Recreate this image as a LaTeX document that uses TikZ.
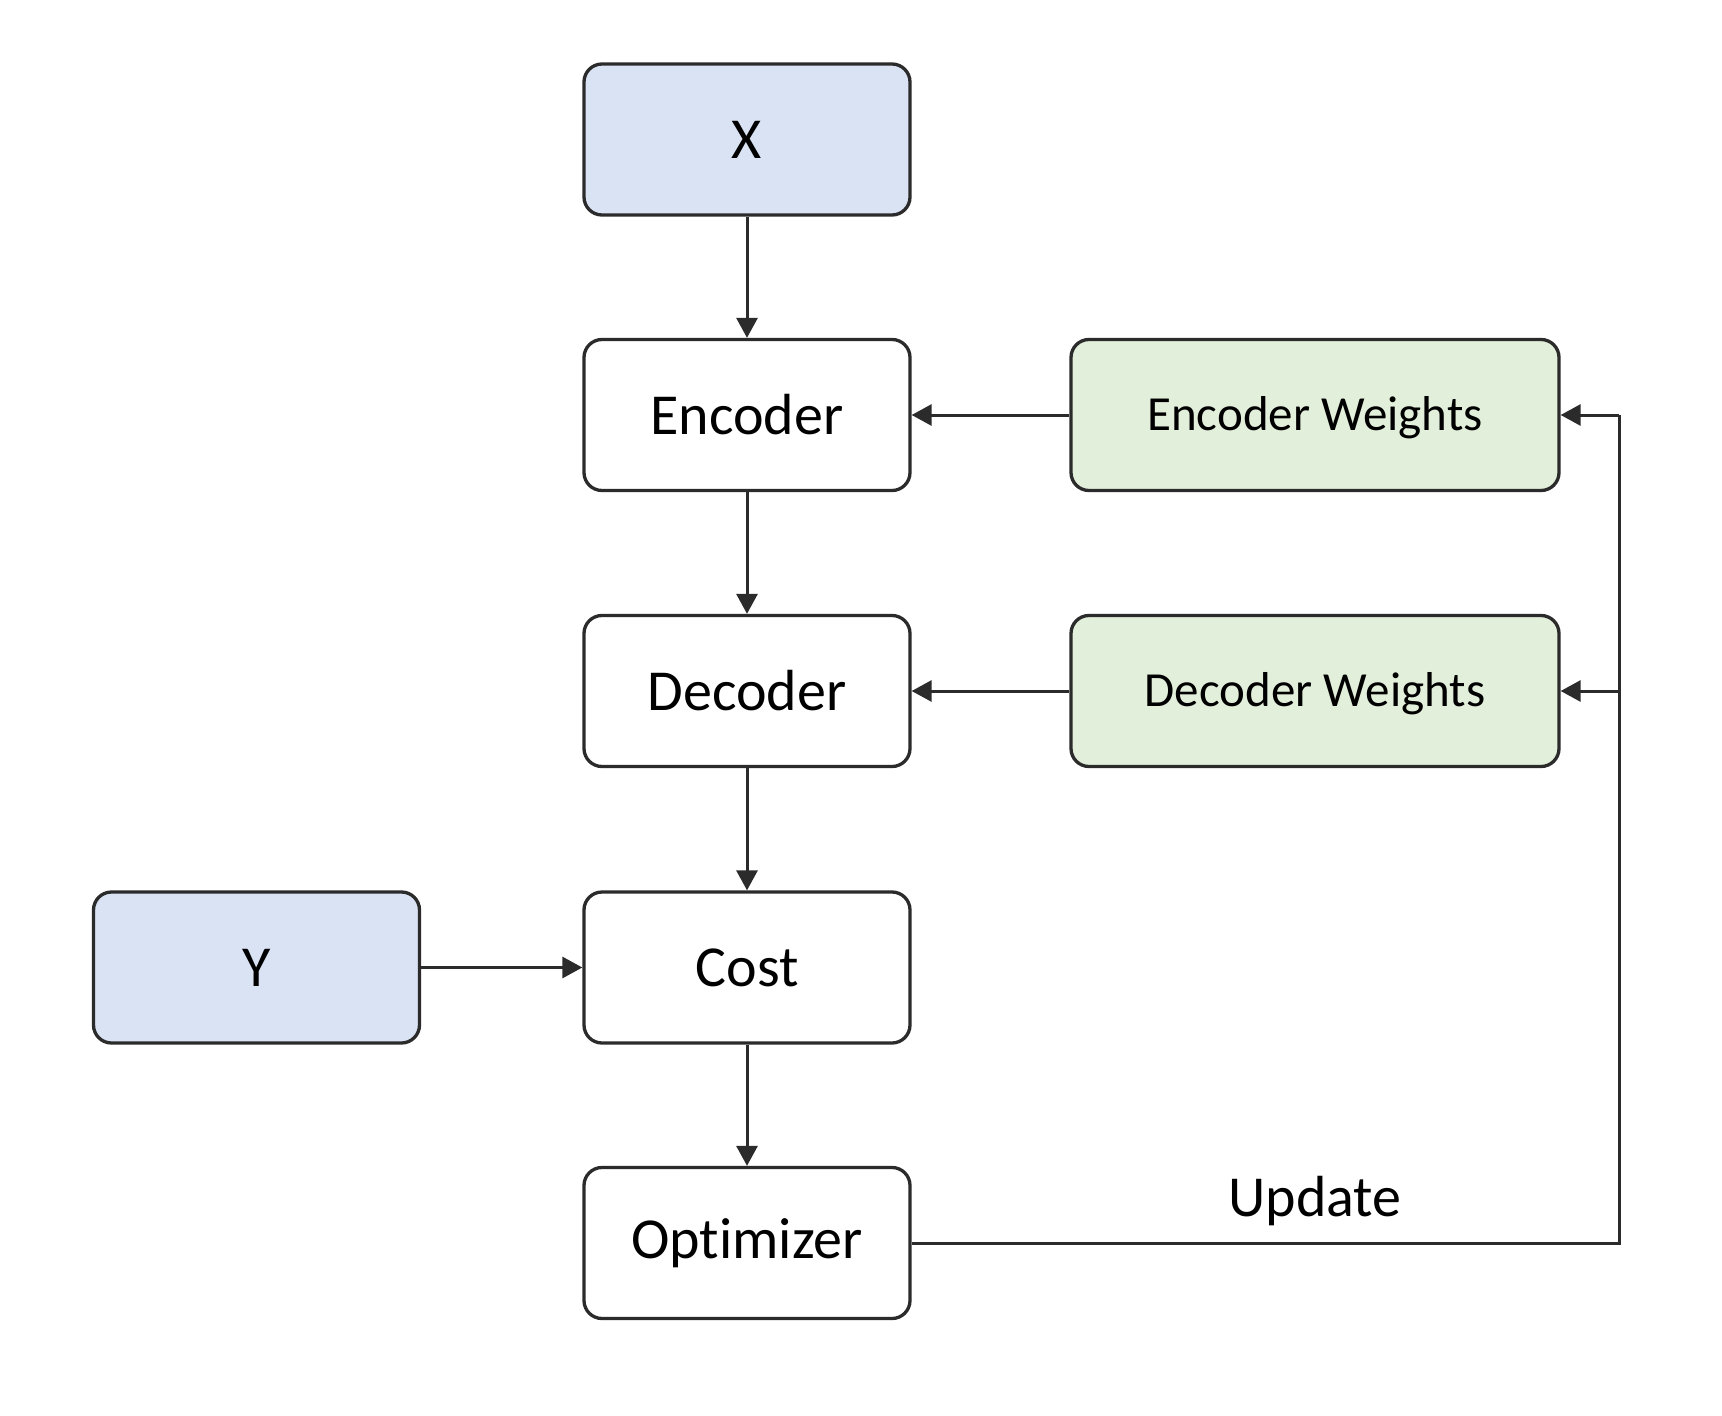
\documentclass[tikz,border=0pt]{standalone}
\usepackage{fontspec}
\setmainfont{Carlito}[Ligatures=CommonOff]
\usetikzlibrary{arrows.meta}
\definecolor{strk}{HTML}{2B2B2B}
\definecolor{bluef}{HTML}{DAE3F3}
\definecolor{greenf}{HTML}{E2EFDA}
\tikzset{
  box/.style={draw=strk, line width=3.3bp, rounded corners=18bp, minimum width=326bp, minimum height=151bp, inner sep=0pt, font=\fontsize{58bp}{60bp}\selectfont},
  wbox/.style={box, fill=greenf, minimum width=488bp, font=\fontsize{49bp}{52bp}\selectfont, text height=43bp, text depth=12bp},
  conn/.style={draw=strk, line width=3bp, -{Triangle[length=20bp,width=21bp]}},
}
\begin{document}
\begin{tikzpicture}[x=1bp,y=-1bp]
\useasboundingbox (0,0) rectangle (1722,1416);
\node[box, fill=bluef] (x) at (747,139.5) {X};
\node[box] (enc) at (747,415) {Encoder};
\node[box] (dec) at (747,691) {Decoder};
\node[box] (cost) at (747,967.5) {Cost};
\node[box] (opt) at (747,1243) {Optimizer};
\node[box, fill=bluef] (y) at (256.5,967.5) {Y};
\node[wbox] (ew) at (1315,415) {Encoder Weights};
\node[wbox] (dw) at (1315,691) {Decoder Weights};
\coordinate (rt) at (1619,415);
\coordinate (rm) at (1619,691);
\coordinate (rb) at (1619,1243);
\node[font=\fontsize{58bp}{60bp}\selectfont, anchor=base] (upd) at (1315,1216) {Update};
\draw[conn] (x) -- (enc);
\draw[conn] (enc) -- (dec);
\draw[conn] (dec) -- (cost);
\draw[conn] (cost) -- (opt);
\draw[conn] (y) -- (cost);
\draw[conn] (ew) -- (enc);
\draw[conn] (dw) -- (dec);
\draw[draw=strk, line width=3bp, line join=miter] (opt.east) -- (rb) -- (rt);
\draw[conn] (rt) -- (ew.east);
\draw[conn] (rm) -- (dw.east);
\end{tikzpicture}
\end{document}
